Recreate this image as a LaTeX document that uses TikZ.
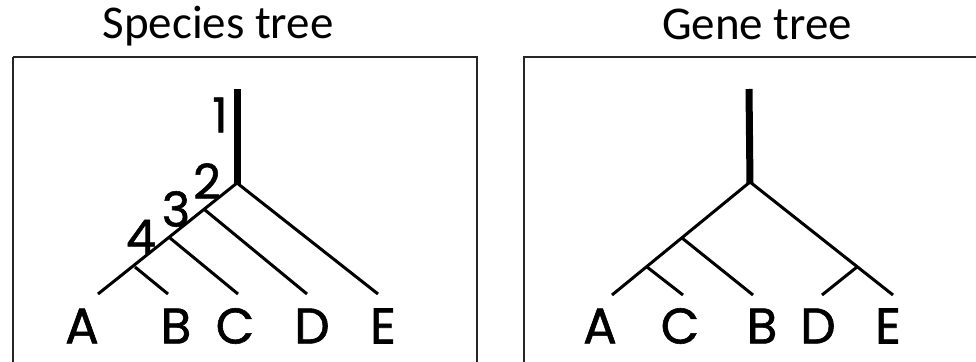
\documentclass[tikz,border=0pt]{standalone}
\usepackage{fontspec}
\setmainfont{Carlito}
\newfontfamily\leaffont[FakeBold=1.2]{Poppins}
\begin{document}
\begin{tikzpicture}[x=1pt,y=-1pt,
  branch/.style={line width=3pt,line cap=butt},
  rootline/.style={line width=7pt},
  frame/.style={draw=black!85,line width=1.8pt},
  leaf/.style={font=\leaffont\fontsize{50}{50}\selectfont,inner sep=0pt,anchor=center},
  num/.style={font=\leaffont\fontsize{48}{48}\selectfont,inner sep=0pt,anchor=center},
  title/.style={font=\fontsize{47}{47}\selectfont,inner sep=0pt,anchor=center}]
\useasboundingbox (0,0) rectangle (976,361);
% frames
\draw[frame] (13,57) -- (477,57) -- (477,362) (13,362) -- (13,57);
\draw[frame] (978,57) -- (524,57) -- (524,362);
% titles
\node[title] (t1) at (218,26) {Species tree};
\node[title] (t2) at (757,24) {Gene tree};
% ---- species tree
\coordinate (s0) at (237,89);
\coordinate (sr) at (237,183);
\coordinate (sn3) at (205,210);
\coordinate (sn2) at (170,238);
\coordinate (sn1) at (135,267);
\coordinate (sA) at (98,294);
\coordinate (sB) at (168,294);
\coordinate (sC) at (238,294);
\coordinate (sD) at (307,294);
\coordinate (sE) at (378,294);
\draw[rootline] (s0) -- ([yshift=-2pt]sr);
\draw[branch] (sr) -- (sA);
\draw[branch] (sr) -- (sE);
\draw[branch] (sn3) -- (sD);
\draw[branch] (sn2) -- (sC);
\draw[branch] (sn1) -- (sB);
\node[num] (n1) at (220,115) {1};
\node[num] (n2) at (207,181) {2};
\node[num] (n3) at (176,209) {3};
\node[num] (n4) at (141,237) {4};
\node[leaf] (lA) at (82,326) {A};
\node[leaf] (lB) at (176,326) {B};
\node[leaf] (lC) at (235,326) {C};
\node[leaf] (lD) at (312,326) {D};
\node[leaf] (lE) at (383,326) {E};
% ---- gene tree
\coordinate (g0) at (749,89);
\coordinate (gr) at (750,182);
\coordinate (gAC) at (647,267);
\coordinate (gACB) at (682,238);
\coordinate (gDE) at (857,267);
\coordinate (gA) at (612,295);
\coordinate (gC) at (683,295);
\coordinate (gB) at (753,295);
\coordinate (gD) at (822,295);
\coordinate (gE) at (893,295);
\draw[rootline] (g0) -- ([yshift=-2pt]gr);
\draw[branch] (gr) -- (gA);
\draw[branch] (gr) -- (gE);
\draw[branch] (gAC) -- (gC);
\draw[branch] (gACB) -- (gB);
\draw[branch] (gDE) -- (gD);
\node[leaf] (mA) at (600,326) {A};
\node[leaf] (mC) at (680,326) {C};
\node[leaf] (mB) at (762,326) {B};
\node[leaf] (mD) at (818,326) {D};
\node[leaf] (mE) at (888,326) {E};
\end{tikzpicture}
\end{document}
